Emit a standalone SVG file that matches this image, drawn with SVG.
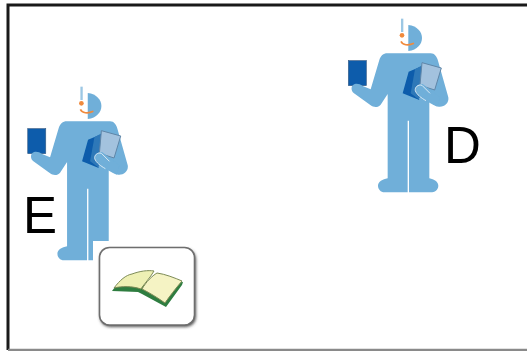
<svg xmlns="http://www.w3.org/2000/svg" width="527" height="351" viewBox="0 0 527 351">
<style>
.lbl{font-family:"Liberation Sans",Arial,sans-serif;font-size:51px;fill:#000}
.body{fill:#6fafd9}
.frame{fill:none;stroke:#1a1a1a;stroke-width:3}
</style>
<defs>
<filter id="soft" x="-5%" y="-5%" width="110%" height="110%"><feGaussianBlur stdDeviation="0.5"/></filter>
<filter id="shadow" x="-10%" y="-10%" width="120%" height="120%"><feGaussianBlur stdDeviation="1.6"/></filter>
<g id="person" filter="url(#soft)" transform="scale(0.3333)">
<path class="body" d="M205 45C232 48 246 66 246 84C246 102 232 120 205 123Z"/>
<rect x="183" y="26" width="7" height="40" fill="#9cc7e4"/>
<circle cx="186" cy="76" r="7" fill="#f08a3c"/>
<path d="M183 94C188 105 204 108 222 100" fill="none" stroke="#f08a3c" stroke-width="5"/>
<rect x="25" y="152" width="54" height="75" fill="#0b5cab" stroke="#3b5f88" stroke-width="2"/>
<path class="body" d="M142 130H272C284 130 290 140 294 152L325 262C328 280 312 292 296 290C284 288 272 278 268 268V505C282 508 295 515 295 527C295 540 284 547 272 547H207V332H203V547H134C122 547 114 537 114 527C114 515 128 508 143 505V252L122 284C114 294 100 292 92 286L42 250C32 242 32 226 44 222C52 220 60 222 68 228L92 238L118 150C122 138 130 130 142 130Z"/>
<path d="M206 185L238 172L232 250L238 270L188 250Z" fill="#0b5cab"/>
<path d="M225 178L248 165L285 190L236 268L212 250Z" fill="#2f78b8"/>
<path d="M246 158L304 174L284 240L240 226Z" fill="#a3c2de" stroke="#5f86a8" stroke-width="3"/>
<path d="M248 222C236 222 224 230 226 242C232 258 262 276 292 290L300 262Z" class="body"/>
<path d="M270 250L246 226C234 222 224 232 226 242C230 254 244 264 258 272" fill="none" stroke="#dbe9f4" stroke-width="3"/>
</g>
</defs>
<rect width="527" height="351" fill="#fff"/>
<g id="frame">
<path class="frame" d="M527 5H8V350"/>
<path d="M8 350H527" stroke="#8a8a8a" stroke-width="2.6" fill="none"/>
</g>
<g id="person-D"><use href="#person" x="340" y="10"/></g>
<g id="person-E"><use href="#person" x="19.4" y="78"/></g>
<rect x="93" y="241" width="106" height="90" fill="#fff"/>
<g id="label-E"><text class="lbl" x="23" y="232.5">E</text></g>
<g id="label-D"><text class="lbl" x="444" y="163">D</text></g>
<g id="book-card">
<rect x="100" y="249" width="96" height="78" rx="10" fill="#555" filter="url(#shadow)"/>
<rect x="99.5" y="247.5" width="95" height="77.5" rx="10" fill="#fff" stroke="#6e6e6e" stroke-width="1.6"/>
<g filter="url(#soft)">
<path d="M112 291L115 287L183 282L182 285L166 307L142 294L138 292Z" fill="#2f7d3f"/>
<path d="M114 288C120 280 126 275 132 274C140 271 148 270 154 271C150 278 144 284 141 289C132 286 122 286 114 288Z" fill="#eef0b4" stroke="#7c8a55" stroke-width="1"/>
<path d="M142 289C146 282 152 276 157 273C165 274 175 278 182 281C176 288 169 297 165 303C158 298 150 293 142 289Z" fill="#f5f3c4" stroke="#7c8a55" stroke-width="1"/>
</g>
</g>
</svg>
